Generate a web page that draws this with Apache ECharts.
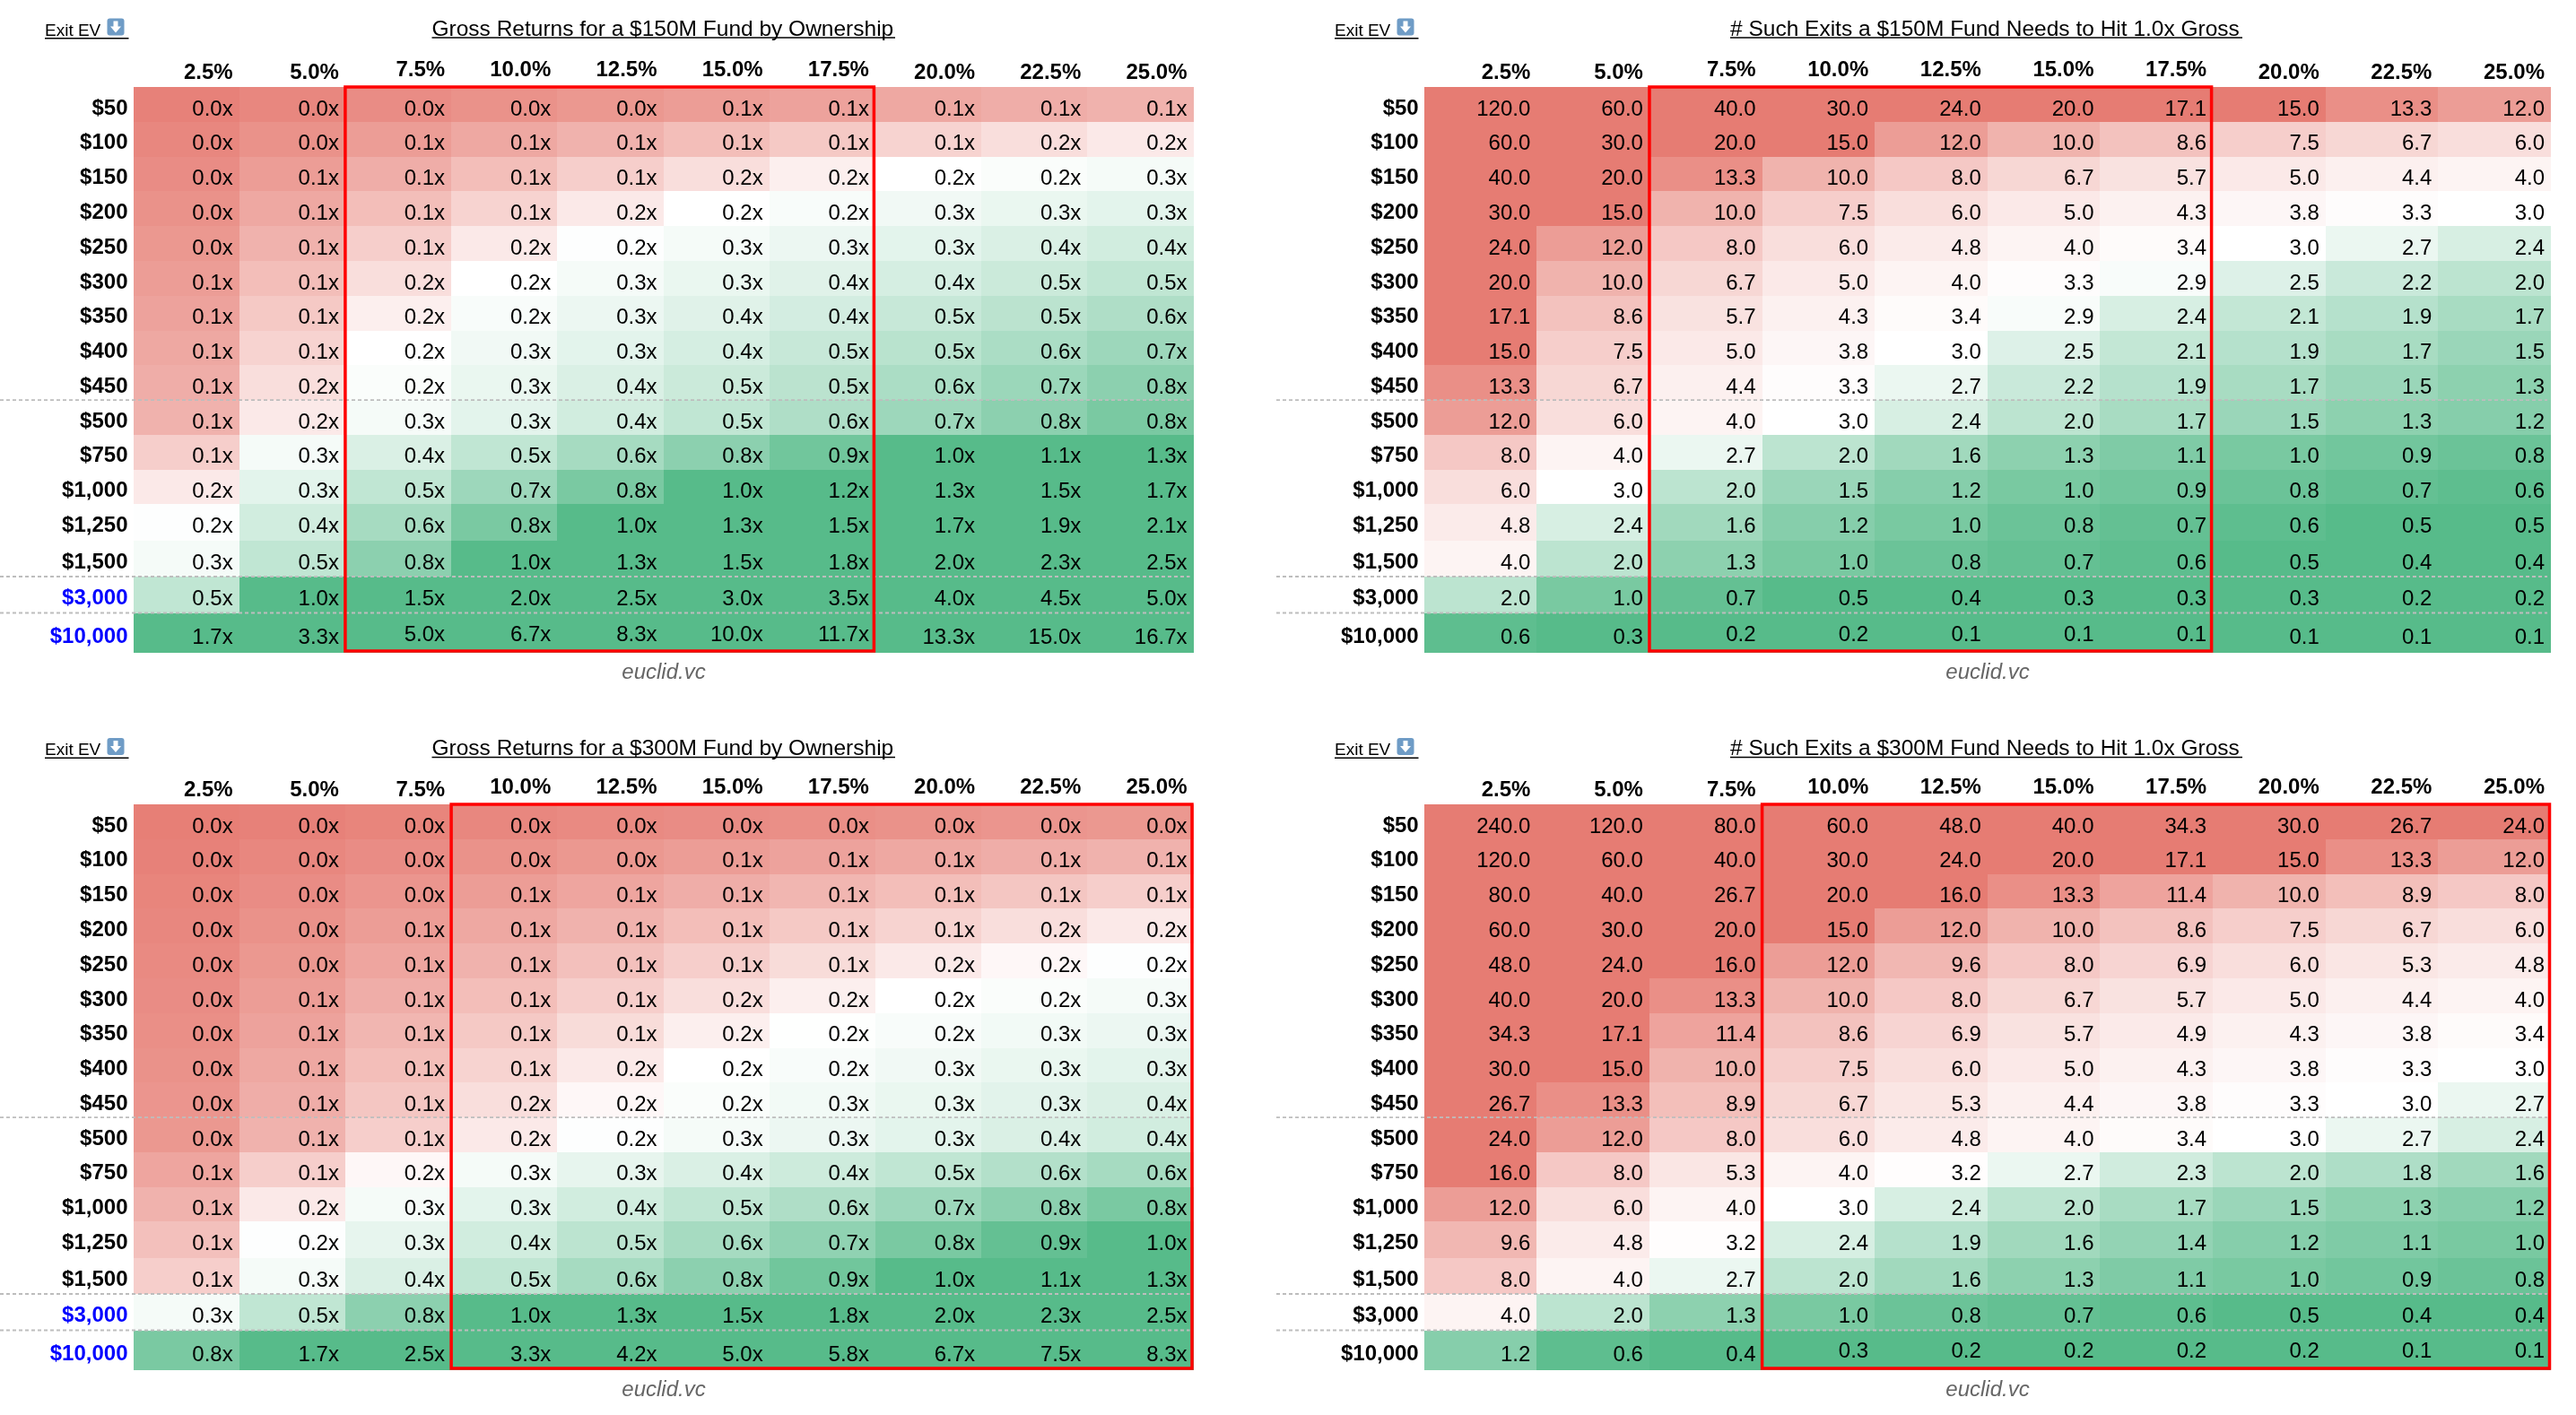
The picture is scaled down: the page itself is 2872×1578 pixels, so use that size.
<!DOCTYPE html>
<html><head><meta charset="utf-8">
<style>html,body{margin:0;padding:0;background:#fff}#c{width:2872px;height:1578px}</style>
<script src="https://cdn.jsdelivr.net/npm/echarts@6/dist/echarts.min.js"></script>
</head><body><div id="c"></div>
<script>
const ownership = ['2.5%','5.0%','7.5%','10.0%','12.5%','15.0%','17.5%','20.0%','22.5%','25.0%'];
const exitLabels = ['$50','$100','$150','$200','$250','$300','$350','$400','$450','$500','$750','$1,000','$1,250','$1,500','$3,000','$10,000'];

const returns150 = [
[.008,.017,.025,.033,.042,.05,.058,.067,.075,.083],
[.017,.033,.05,.067,.083,.1,.117,.133,.15,.167],
[.025,.05,.075,.1,.125,.15,.175,.2,.225,.25],
[.033,.067,.1,.133,.167,.2,.233,.267,.3,.333],
[.042,.083,.125,.167,.208,.25,.292,.333,.375,.417],
[.05,.1,.15,.2,.25,.3,.35,.4,.45,.5],
[.058,.117,.175,.233,.292,.35,.408,.467,.525,.583],
[.067,.133,.2,.267,.333,.4,.467,.533,.6,.667],
[.075,.15,.225,.3,.375,.45,.525,.6,.675,.75],
[.083,.167,.25,.333,.417,.5,.583,.667,.75,.833],
[.125,.25,.375,.5,.625,.75,.875,1,1.125,1.25],
[.167,.333,.5,.667,.833,1,1.167,1.333,1.5,1.667],
[.208,.417,.625,.833,1.042,1.25,1.458,1.667,1.875,2.083],
[.25,.5,.75,1,1.25,1.5,1.75,2,2.25,2.5],
[.5,1,1.5,2,2.5,3,3.5,4,4.5,5],
[1.667,3.333,5,6.667,8.333,10,11.667,13.333,15,16.667]];

const exits150 = [
[120,60,40,30,24,20,17.1,15,13.3,12],
[60,30,20,15,12,10,8.6,7.5,6.7,6],
[40,20,13.3,10,8,6.7,5.7,5,4.4,4],
[30,15,10,7.5,6,5,4.3,3.8,3.3,3],
[24,12,8,6,4.8,4,3.4,3,2.7,2.4],
[20,10,6.7,5,4,3.3,2.9,2.5,2.2,2],
[17.1,8.6,5.7,4.3,3.4,2.9,2.4,2.1,1.9,1.7],
[15,7.5,5,3.8,3,2.5,2.1,1.9,1.7,1.5],
[13.3,6.7,4.4,3.3,2.7,2.2,1.9,1.7,1.5,1.3],
[12,6,4,3,2.4,2,1.7,1.5,1.3,1.2],
[8,4,2.7,2,1.6,1.3,1.1,1,.9,.8],
[6,3,2,1.5,1.2,1,.9,.8,.7,.6],
[4.8,2.4,1.6,1.2,1,.8,.7,.6,.5,.5],
[4,2,1.3,1,.8,.7,.6,.5,.4,.4],
[2,1,.7,.5,.4,.3,.3,.3,.2,.2],
[.6,.3,.2,.2,.1,.1,.1,.1,.1,.1]];

const returns300 = [
[.004,.008,.013,.017,.021,.025,.029,.033,.038,.042],
[.008,.017,.025,.033,.042,.05,.058,.067,.075,.083],
[.013,.025,.038,.05,.063,.075,.088,.1,.113,.125],
[.017,.033,.05,.067,.083,.1,.117,.133,.15,.167],
[.021,.042,.063,.083,.104,.125,.146,.167,.188,.208],
[.025,.05,.075,.1,.125,.15,.175,.2,.225,.25],
[.029,.058,.088,.117,.146,.175,.204,.233,.263,.292],
[.033,.067,.1,.133,.167,.2,.233,.267,.3,.333],
[.038,.075,.113,.15,.188,.225,.263,.3,.338,.375],
[.042,.083,.125,.167,.208,.25,.292,.333,.375,.417],
[.063,.125,.188,.25,.313,.375,.438,.5,.563,.625],
[.083,.167,.25,.333,.417,.5,.583,.667,.75,.833],
[.104,.208,.313,.417,.521,.625,.729,.833,.938,1.042],
[.125,.25,.375,.5,.625,.75,.875,1,1.125,1.25],
[.25,.5,.75,1,1.25,1.5,1.75,2,2.25,2.5],
[.833,1.667,2.5,3.333,4.167,5,5.833,6.667,7.5,8.333]];

const exits300 = [
[240,120,80,60,48,40,34.3,30,26.7,24],
[120,60,40,30,24,20,17.1,15,13.3,12],
[80,40,26.7,20,16,13.3,11.4,10,8.9,8],
[60,30,20,15,12,10,8.6,7.5,6.7,6],
[48,24,16,12,9.6,8,6.9,6,5.3,4.8],
[40,20,13.3,10,8,6.7,5.7,5,4.4,4],
[34.3,17.1,11.4,8.6,6.9,5.7,4.9,4.3,3.8,3.4],
[30,15,10,7.5,6,5,4.3,3.8,3.3,3],
[26.7,13.3,8.9,6.7,5.3,4.4,3.8,3.3,3,2.7],
[24,12,8,6,4.8,4,3.4,3,2.7,2.4],
[16,8,5.3,4,3.2,2.7,2.3,2,1.8,1.6],
[12,6,4,3,2.4,2,1.7,1.5,1.3,1.2],
[9.6,4.8,3.2,2.4,1.9,1.6,1.4,1.2,1.1,1],
[8,4,2.7,2,1.6,1.3,1.1,1,.9,.8],
[4,2,1.3,1,.8,.7,.6,.5,.4,.4],
[1.2,.6,.4,.3,.2,.2,.2,.2,.1,.1]];

// ---- layout and style (no data below this line) ----
const RED='#E67C73', WHITE='#FFFFFF', GREEN='#57BB8A';
const FONT='"Liberation Sans", Arial, sans-serif';
const rowEdges=[0,38.8,77.6,116.4,155.2,194,232.8,271.6,310.4,349.2,388,426.5,465,505.5,546,586.5,631];
const sepEdges=[9,14,15];
const returnStops=[[0,RED],[.2,WHITE],[1,GREEN]];
const exitStops=[[.5,GREEN],[3,WHITE],[15,RED]];
const panels=[
 {title:'Gross Returns for a $150M Fund by Ownership',values:returns150,stops:returnStops,suffix:'x',box:[2,7],blue:true,
  left:148.5,width:1182,top:97,headDy:0,sepFrom:0,ulX:[481.5,998],exitX:50,credit:740,lift:2.5},
 {title:'# Such Exits a $150M Fund Needs to Hit 1.0x Gross',values:exits150,stops:exitStops,suffix:'',box:[2,7],blue:false,
  left:1587.7,width:1256.3,top:97,headDy:0,sepFrom:1423,ulX:[1929,2500],exitX:1488,credit:2216,lift:2.7},
 {title:'Gross Returns for a $300M Fund by Ownership',values:returns300,stops:returnStops,suffix:'x',box:[3,10],blue:true,
  left:148.5,width:1182,top:897,headDy:802.5,sepFrom:0,ulX:[481.5,998],exitX:50,credit:740,lift:0},
 {title:'# Such Exits a $300M Fund Needs to Hit 1.0x Gross',values:exits300,stops:exitStops,suffix:'',box:[3,10],blue:false,
  left:1587.7,width:1256.3,top:897,headDy:802.5,sepFrom:1423,ulX:[1929,2500],exitX:1488,credit:2216,lift:3.5}
];
const H=rowEdges[rowEdges.length-1];
const rowCenters=exitLabels.map((_,i)=>(rowEdges[i]+rowEdges[i+1])/2);

function shade(v,stops){
  if(v<=stops[0][0]) return stops[0][1];
  for(let i=1;i<stops.length;i++){
    if(v<=stops[i][0]){
      const t=(v-stops[i-1][0])/(stops[i][0]-stops[i-1][0]);
      return echarts.color.lerp(t,[stops[i-1][1],stops[i][1]]);
    }
  }
  return stops[stops.length-1][1];
}
function fmt(v,suffix){
  return suffix ? (Math.round(v*10+1e-6)/10).toFixed(1)+suffix : v.toFixed(1);
}

const option={animation:false,backgroundColor:'#fff',title:[],grid:[],xAxis:[],yAxis:[],series:[],graphic:[]};
panels.forEach((p,pi)=>{
  const dy=p.headDy;
  option.grid.push({left:p.left,top:p.top,width:p.width,height:H,containLabel:false,outerBoundsMode:'none'});
  option.title.push({text:p.title,left:p.ulX[0]-5,top:15.5+dy,textAlign:'left',
    textStyle:{fontFamily:FONT,fontWeight:'normal',fontSize:24.5,color:'#000'}});
  option.xAxis.push({gridIndex:pi,type:'value',position:'top',min:0,max:10,
    axisLine:{show:false},axisTick:{show:false},splitLine:{show:false},
    axisLabel:{show:true,margin:4,align:'right',customValues:ownership.map((_,i)=>i+1),
      formatter:v=>{const i=v-1;return (i>=p.box[0]&&i<p.box[1]?'{l|':'{n|')+ownership[i]+'}';},
      rich:{n:{fontFamily:FONT,fontWeight:'bold',fontSize:24,color:'#000',padding:[0,7,0,0]},
            l:{fontFamily:FONT,fontWeight:'bold',fontSize:24,color:'#000',padding:[0,7,3,0]}}}});
  option.yAxis.push({gridIndex:pi,type:'value',inverse:true,min:0,max:H,
    axisLine:{show:false},axisTick:{show:false},splitLine:{show:false},
    axisLabel:{show:true,margin:6,customValues:rowCenters,
      formatter:v=>{const i=rowCenters.findIndex(c=>Math.abs(c-v)<1e-6);
        return (p.blue&&i>=14?'{b|':'{k|')+exitLabels[i]+'}';},
      rich:{k:{fontFamily:FONT,fontWeight:'bold',fontSize:24,color:'#000',padding:[9,0,0,0]},
            b:{fontFamily:FONT,fontWeight:'bold',fontSize:24,color:'#0000FF',padding:[9,0,0,0]}}}});
  const cells=[];
  p.values.forEach((row,r)=>row.forEach((v,c)=>cells.push([c,r,v])));
  option.series.push({type:'custom',name:p.title,xAxisIndex:pi,yAxisIndex:pi,z:2,data:cells,
    encode:{x:0,y:1,tooltip:2},
    renderItem:(params,api)=>{
      const c=api.value(0),r=api.value(1),v=api.value(2);
      const a=api.coord([c,rowEdges[r]]),b=api.coord([c+1,rowEdges[r+1]]);
      const x0=Math.round(a[0]),y0=Math.round(a[1]),x1=Math.round(b[0]),y1=Math.round(b[1]);
      const lifted=(r===15&&c>=p.box[0]&&c<p.box[1])?p.lift:0;
      return {type:'group',children:[
        {type:'rect',shape:{x:x0,y:y0,width:x1-x0,height:y1-y0},style:{fill:shade(v,p.stops)}},
        {type:'text',style:{text:fmt(v,p.suffix),x:b[0]-7,y:(a[1]+b[1])/2+5.5-lifted,align:'right',verticalAlign:'middle',
          font:'24px '+FONT,fill:'#000'}}
      ]};
    }});
  option.series.push({type:'custom',name:'separators',xAxisIndex:pi,yAxisIndex:pi,z:3,silent:true,
    data:sepEdges.map(e=>[0,rowEdges[e]]),encode:{x:0,y:1},
    renderItem:(params,api)=>{
      const y=api.coord([0,api.value(1)])[1];
      const right=api.coord([10,0])[0];
      return {type:'line',shape:{x1:p.sepFrom,y1:y,x2:right-4,y2:y},
        style:{stroke:'#bdbdbd',lineWidth:1.8,lineDash:[4,3]}};
    }});
  option.series.push({type:'custom',name:'box',xAxisIndex:pi,yAxisIndex:pi,z:4,silent:true,
    data:[[p.box[0],p.box[1]]],encode:{x:[0,1]},
    renderItem:(params,api)=>{
      const a=api.coord([api.value(0),0]),b=api.coord([api.value(1),H]);
      return {type:'rect',shape:{x:a[0],y:a[1],width:b[0]-a[0]-1.5,height:b[1]-a[1]-2},
        style:{fill:'none',stroke:'#FF0000',lineWidth:3.5}};
    }});
  option.graphic.push(
    {type:'line',shape:{x1:p.ulX[0],y1:42+dy,x2:p.ulX[1],y2:42+dy},style:{stroke:'#000',lineWidth:1.6}},
    {type:'text',style:{text:'Exit EV',x:p.exitX,y:44+dy,align:'left',verticalAlign:'bottom',font:'19px '+FONT,fill:'#000'}},
    {type:'line',shape:{x1:p.exitX,y1:42.7+dy,x2:p.exitX+93.5,y2:42.7+dy},style:{stroke:'#000',lineWidth:1.5}},
    {type:'rect',shape:{x:p.exitX+69.5,y:20.5+dy,width:19,height:19,r:3},style:{fill:'#6f9cc6'}},
    {type:'polygon',shape:{points:[[p.exitX+76.5,23.5+dy],[p.exitX+81.5,23.5+dy],[p.exitX+81.5,29.5+dy],[p.exitX+85,29.5+dy],[p.exitX+79,36.5+dy],[p.exitX+73,29.5+dy],[p.exitX+76.5,29.5+dy]]},style:{fill:'#fff'}},
    {type:'text',style:{text:'euclid.vc',x:p.credit,y:750+p.top-97,align:'center',verticalAlign:'middle',font:'italic 24px '+FONT,fill:'#666'}}
  );
});
const chart=echarts.init(document.getElementById('c'),null,{renderer:'canvas',width:2872,height:1578});
chart.setOption(option);
</script></body></html>
